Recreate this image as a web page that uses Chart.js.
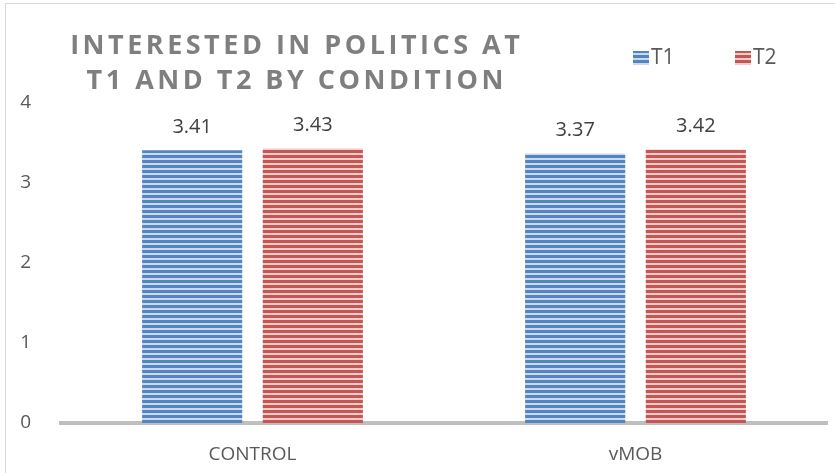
<!DOCTYPE html>
<html>
<head>
<meta charset="utf-8">
<script src="https://cdn.jsdelivr.net/npm/chart.js@4.4.0/dist/chart.umd.min.js"></script>
<style>
  html, body { margin: 0; padding: 0; background: #fff; }
  #wrap { position: relative; width: 835px; height: 473px; }
  #frame { position: absolute; left: 5px; top: 3px; width: 900px; height: 600px; border: 1px solid #d9d9d9; box-sizing: border-box; }
  canvas { position: absolute; left: 0; top: 0; }
</style>
</head>
<body>
<div id="wrap">
  <div id="frame"></div>
  <canvas id="chart" width="835" height="473"></canvas>
</div>
<script>
document.addEventListener('DOMContentLoaded', function() {
    // data
    const categories = ['CONTROL', 'vMOB'];
    const seriesNames = ['T1', 'T2'];
    const t1Values = [3.41, 3.37];
    const t2Values = [3.43, 3.42];
    const yTicks = [0, 1, 2, 3, 4];
    const titleLines = ['INTERESTED IN POLITICS AT', 'T1 AND T2 BY CONDITION'];

    const FONT = "'Open Sans', sans-serif";
    const TEXT = '#595959';

    // horizontal stripe fill like the office pattern
    const stripes = (dark, light) => {
        const c = document.createElement('canvas');
        c.width = 8; c.height = 5;
        const x = c.getContext('2d');
        x.fillStyle = light; x.fillRect(0, 0, 8, 5);
        x.fillStyle = dark; x.fillRect(0, 0, 8, 3);
        return x.createPattern(c, 'repeat');
    };
    const BLUE = stripes('#5585c0', '#cbd9ee');
    const RED = stripes('#c45654', '#f0cccb');

    const extras = {
        id: 'extras',
        afterDatasetsDraw(chart) {
            const ctx = chart.ctx;
            ctx.save();
            // value labels over the bars
            ctx.font = '20px ' + FONT;
            ctx.fillStyle = '#404040';
            ctx.textAlign = 'center';
            ctx.textBaseline = 'middle';
            chart.data.datasets.forEach((ds, i) => {
                chart.getDatasetMeta(i).data.forEach((bar, j) => {
                    ctx.fillText(ds.data[j].toFixed(2), bar.x, bar.y - 23);
                });
            });
            // title
            ctx.font = 'bold 27px ' + FONT;
            ctx.letterSpacing = '3.5px';
            ctx.fillStyle = '#7f7f7f';
            ctx.textAlign = 'left';
            titleLines.forEach((t, k) => {
                const w = ctx.measureText(t).width - 3.5;
                ctx.fillText(t, 295 - w / 2, 46 + k * 35);
            });
            ctx.letterSpacing = '0px';
            // legend
            ctx.font = '21px ' + FONT;
            ctx.textAlign = 'left';
            chart.data.datasets.forEach((ds, i) => {
                const lx = 633 + i * 102;
                ctx.fillStyle = ds.backgroundColor;
                ctx.fillRect(lx, 51, 16, 14);
                ctx.fillStyle = TEXT;
                ctx.fillText(ds.label, lx + 18, 58);
            });
            ctx.restore();
        }
    };

    new Chart(document.getElementById('chart'), {
        type: 'bar',
        data: {
            labels: categories,
            datasets: [
                { label: seriesNames[0], data: t1Values, backgroundColor: BLUE },
                { label: seriesNames[1], data: t2Values, backgroundColor: RED }
            ]
        },
        options: {
            responsive: false,
            animation: false,
            categoryPercentage: 0.63,
            barPercentage: 0.83,
            layout: { padding: { top: 103, right: 8, left: 0, bottom: 0 } },
            plugins: { legend: { display: false }, tooltip: { enabled: false } },
            scales: {
                x: {
                    grid: { display: false },
                    border: { display: true, color: '#bfbfbf', width: 4 },
                    ticks: { color: TEXT, font: { family: FONT, size: 19 }, padding: 12 },
                    afterFit: s => { s.height = 50; }
                },
                y: {
                    min: 0, max: 4,
                    grid: { display: false },
                    border: { display: false },
                    afterBuildTicks: s => { s.ticks = yTicks.map(v => ({ value: v })); },
                    ticks: { color: TEXT, font: { family: FONT, size: 19 }, padding: 22 },
                    afterFit: s => { s.width = 61; }
                }
            }
        },
        plugins: [extras]
    });
});
</script>
</body>
</html>
